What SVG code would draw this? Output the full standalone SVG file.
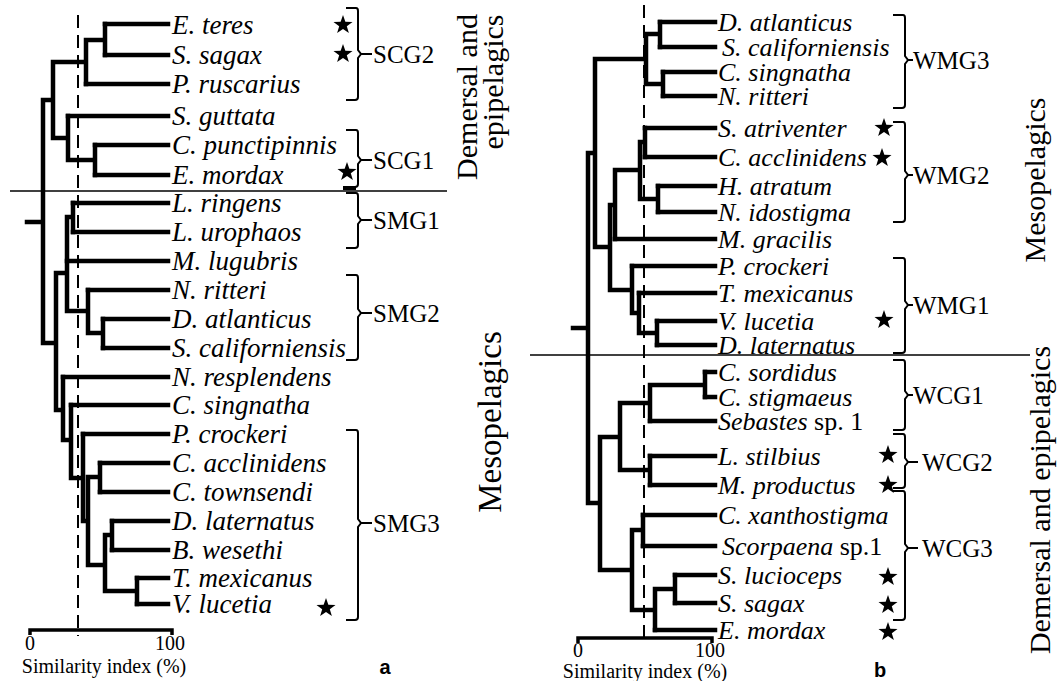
<svg xmlns="http://www.w3.org/2000/svg" width="1060" height="681" viewBox="0 0 1060 681">
<style>
.sp{font-family:"Liberation Serif",serif;font-style:italic;font-size:26px;fill:#000}
.spa{font-size:27px}
.up{font-style:normal}
.lb{font-family:"Liberation Serif",serif;font-size:25px;fill:#000}
.vt{font-family:"Liberation Serif",serif;font-size:30px;fill:#000}
.vtl{font-size:33px}
.ax{font-family:"Liberation Serif",serif;font-size:20px;fill:#000}
.pl{font-family:"Liberation Sans",sans-serif;font-weight:bold;font-size:20px;fill:#000}
.br{fill:none;stroke:#000;stroke-width:2}
.tr{fill:none;stroke:#000;stroke-width:4.5;stroke-linecap:square}
.ds{fill:none;stroke:#000;stroke-width:2;stroke-dasharray:13 7}
.sep{stroke:#000;stroke-width:1.5}
.axl{fill:none;stroke:#000;stroke-width:3.5}
</style>
<defs>
<polygon id="star" points="0,-10 2.35,-3.24 9.51,-3.09 3.8,1.24 5.88,8.09 0,4 -5.88,8.09 -3.8,1.24 -9.51,-3.09 -2.35,-3.24" fill="#000"/>
</defs>
<rect width="1060" height="681" fill="#fff"/>

<!-- reference lines -->
<g id="guides">
<line class="ds" x1="78" y1="15" x2="78" y2="636"/>
<line class="ds" x1="644" y1="5" x2="644" y2="640"/>
<line class="sep" x1="10" y1="191" x2="447" y2="191"/>
<line class="sep" x1="530" y1="355" x2="1030" y2="355"/>
</g>

<!-- connectors (dendrogram branches) -->
<g id="connectors">
<path class="tr" d="M105,24H168M105,55H168M86,84H168M68,116H168M95,145H168M95,175H168M73,203H168M73,232H168M67,261H168M88,290H168M103,319H168M103,348H168M63,377H168M71,405H168M83,434H168M100,463H168M100,492H168M112,521H168M112,550H168M137,578H168M137,604H168"/>
<path class="tr" d="M105,24V55M86,40H105M86,40V84M53,62H86M95,145V175M68,160H95M68,116V160M53,138H68M53,62V138M43,100H53M73,203V232M67,217H73M103,319V348M88,333H103M88,290V333M67,311H88M67,217V311M56,273H67M137,578V604M105,591H137M112,521V550M105,535H112M105,535V591M88,565H105M100,463V492M88,477H100M88,477V565M83,521H88M83,434V521M71,478H83M71,405V478M63,440H71M63,377V440M56,410H63M56,273V410M43,343H56M43,100V343M27,222H43"/>
<path class="tr" d="M660,22H715M660,47H715M663,72H715M663,96H715M645,128H715M645,157H715M658,186H715M658,212H715M615,239H715M632,266H715M639,293H715M657,321H715M657,345H715M705,372H715M705,397H715M650,421H715M650,456H715M650,485H715M643,515H715M643,546H715M675,575H715M675,603H715M655,630H715"/>
<path class="tr" d="M660,22V47M646,34H660M663,72V96M646,84H663M646,34V84M595,59H646M645,128V157M640,142H645M658,186V212M640,199H658M640,142V199M615,170H640M615,170V239M610,205H615M657,321V345M639,333H657M639,293V333M632,313H639M632,266V313M610,290H632M610,205V290M595,247H610M595,59V247M588,153H595M705,372V397M650,385H705M650,385V421M620,403H650M650,456V485M620,470H650M620,403V470M600,437H620M643,515V546M632,530H643M675,575V603M655,589H675M655,589V630M632,610H655M632,530V610M600,570H632M600,437V570M588,503H600M588,153V503M573,328H588"/>
</g>

<!-- panel a leaves -->
<g id="panel-a-leaves" class="sp spa">
<text id="a-e-teres" x="172" y="34">E. teres</text>
<text id="a-s-sagax" x="172" y="64">S. sagax</text>
<text id="a-p-ruscarius" x="172" y="93">P. ruscarius</text>
<text id="a-s-guttata" x="172" y="125">S. guttata</text>
<text id="a-c-punctipinnis" x="172" y="154">C. punctipinnis</text>
<text id="a-e-mordax" x="172" y="184">E. mordax</text>
<text id="a-l-ringens" x="172" y="212">L. ringens</text>
<text id="a-l-urophaos" x="172" y="241">L. urophaos</text>
<text id="a-m-lugubris" x="172" y="270">M. lugubris</text>
<text id="a-n-ritteri" x="172" y="299">N. ritteri</text>
<text id="a-d-atlanticus" x="172" y="328">D. atlanticus</text>
<text id="a-s-californiensis" x="172" y="357">S. californiensis</text>
<text id="a-n-resplendens" x="172" y="386">N. resplendens</text>
<text id="a-c-singnatha" x="172" y="414">C. singnatha</text>
<text id="a-p-crockeri" x="172" y="443">P. crockeri</text>
<text id="a-c-acclinidens" x="172" y="472">C. acclinidens</text>
<text id="a-c-townsendi" x="172" y="501">C. townsendi</text>
<text id="a-d-laternatus" x="172" y="530">D. laternatus</text>
<text id="a-b-wesethi" x="172" y="559">B. wesethi</text>
<text id="a-t-mexicanus" x="172" y="587">T. mexicanus</text>
<text id="a-v-lucetia" x="172" y="613">V. lucetia</text>
</g>

<!-- panel b leaves -->
<g id="panel-b-leaves" class="sp">
<text id="b-d-atlanticus" x="718" y="31">D. atlanticus</text>
<text id="b-s-californiensis" x="722" y="56">S. californiensis</text>
<text id="b-c-singnatha" x="718" y="81">C. singnatha</text>
<text id="b-n-ritteri" x="718" y="105">N. ritteri</text>
<text id="b-s-atriventer" x="718" y="137">S. atriventer</text>
<text id="b-c-acclinidens" x="718" y="166">C. acclinidens</text>
<text id="b-h-atratum" x="718" y="195">H. atratum</text>
<text id="b-n-idostigma" x="718" y="221">N. idostigma</text>
<text id="b-m-gracilis" x="718" y="248">M. gracilis</text>
<text id="b-p-crockeri" x="718" y="275">P. crockeri</text>
<text id="b-t-mexicanus" x="718" y="302">T. mexicanus</text>
<text id="b-v-lucetia" x="718" y="330">V. lucetia</text>
<text id="b-d-laternatus" x="718" y="354">D. laternatus</text>
<text id="b-c-sordidus" x="718" y="381">C. sordidus</text>
<text id="b-c-stigmaeus" x="718" y="406">C. stigmaeus</text>
<text id="b-sebastes" x="718" y="430">Sebastes<tspan class="up"> sp. 1</tspan></text>
<text id="b-l-stilbius" x="718" y="465">L. stilbius</text>
<text id="b-m-productus" x="718" y="494">M. productus</text>
<text id="b-c-xanthostigma" x="718" y="524">C. xanthostigma</text>
<text id="b-scorpaena" x="722" y="555">Scorpaena<tspan class="up"> sp.1</tspan></text>
<text id="b-s-lucioceps" x="718" y="584">S. lucioceps</text>
<text id="b-s-sagax" x="718" y="612">S. sagax</text>
<text id="b-e-mordax" x="718" y="639">E. mordax</text>
</g>

<!-- stars -->
<g id="stars">
<use href="#star" x="343" y="25"/>
<use href="#star" x="343" y="54"/>
<use href="#star" x="347" y="172"/>
<use href="#star" x="326" y="608"/>
<use href="#star" x="884" y="128"/>
<use href="#star" x="882" y="158"/>
<use href="#star" x="884" y="320"/>
<use href="#star" x="888" y="455"/>
<use href="#star" x="888" y="485"/>
<use href="#star" x="888" y="577"/>
<use href="#star" x="888" y="605"/>
<use href="#star" x="888" y="632"/>
</g>

<!-- group brackets -->
<g id="group-scg2"><path class="br" d="M346,8H356Q358,8 358,11V50L361,54L358,58V97Q358,100 355,100H346M361,54H372"/><text class="lb" x="373" y="63">SCG2</text></g>
<g id="group-scg1"><path class="br" d="M346,130H356Q358,130 358,133V156L361,160L358,164V184Q358,187 355,187H346M361,160H372"/><path d="M343,188H356" stroke="#000" stroke-width="4"/><text class="lb" x="373" y="169">SCG1</text></g>
<g id="group-smg1"><path class="br" d="M346,193H356Q358,193 358,196V216L361,220L358,224V245Q358,248 355,248H346M361,220H372"/><text class="lb" x="373" y="229">SMG1</text></g>
<g id="group-smg2"><path class="br" d="M346,275H356Q358,275 358,278V309L361,313L358,317V357Q358,360 355,360H346M361,313H372"/><text class="lb" x="373" y="322">SMG2</text></g>
<g id="group-smg3"><path class="br" d="M346,430H356Q358,430 358,433V519L361,523L358,527V617Q358,620 355,620H346M361,523H372"/><text class="lb" x="373" y="532">SMG3</text></g>

<g id="group-wmg3"><path class="br" d="M893,15H903Q905,15 905,18V56L908,60L905,64V105Q905,108 902,108H893M908,60H913"/><text class="lb" x="913" y="69">WMG3</text></g>
<g id="group-wmg2"><path class="br" d="M893,122H903Q905,122 905,125V171L908,175L905,179V219Q905,222 902,222H893M908,175H913"/><text class="lb" x="913" y="184">WMG2</text></g>
<g id="group-wmg1"><path class="br" d="M893,258H903Q905,258 905,261V301L908,305L905,309V350Q905,353 902,353H893M908,305H913"/><text class="lb" x="913" y="314">WMG1</text></g>
<g id="group-wcg1"><path class="br" d="M893,360H903Q905,360 905,363V391L908,395L905,399V427Q905,430 902,430H893M908,395H913"/><text class="lb" x="913" y="404">WCG1</text></g>
<g id="group-wcg2"><path class="br" d="M893,434H903Q905,434 905,437V458L908,462L905,466V485Q905,488 902,488H893M908,462H918"/><text class="lb" x="922" y="471">WCG2</text></g>
<g id="group-wcg3"><path class="br" d="M893,491H903Q905,491 905,494V544L908,548L905,552V617Q905,620 902,620H893M908,548H918"/><text class="lb" x="922" y="557">WCG3</text></g>

<!-- habitat labels -->
<g id="habitat-a-top"><text class="vt" text-anchor="middle" transform="translate(477,97) rotate(-90)">Demersal and</text><text class="vt" text-anchor="middle" transform="translate(503,82) rotate(-90)">epipelagics</text></g>
<g id="habitat-a-bottom"><text class="vt vtl" text-anchor="middle" transform="translate(501,422) rotate(-90)">Mesopelagics</text></g>
<g id="habitat-b-top"><text class="vt" text-anchor="middle" transform="translate(1045,180) rotate(-90)">Mesopelagics</text></g>
<g id="habitat-b-bottom"><text class="vt" text-anchor="middle" transform="translate(1050,500) rotate(-90)">Demersal and epipelagics</text></g>

<!-- axes -->
<g id="axis-a">
<path class="axl" d="M30,635V630H172V635"/>
<text class="ax" x="30" y="650" text-anchor="middle">0</text>
<text class="ax" x="170" y="650" text-anchor="middle">100</text>
<text class="ax" x="104" y="673" text-anchor="middle">Similarity index (%)</text>
</g>
<g id="axis-b">
<path class="axl" d="M578,643V638H712V643"/>
<text class="ax" x="578" y="657" text-anchor="middle">0</text>
<text class="ax" x="710" y="657" text-anchor="middle">100</text>
<text class="ax" x="645" y="678" text-anchor="middle">Similarity index (%)</text>
</g>
<g id="panel-labels">
<text class="pl" x="385" y="674" text-anchor="middle">a</text>
<text class="pl" x="880" y="677" text-anchor="middle">b</text>
</g>
</svg>
